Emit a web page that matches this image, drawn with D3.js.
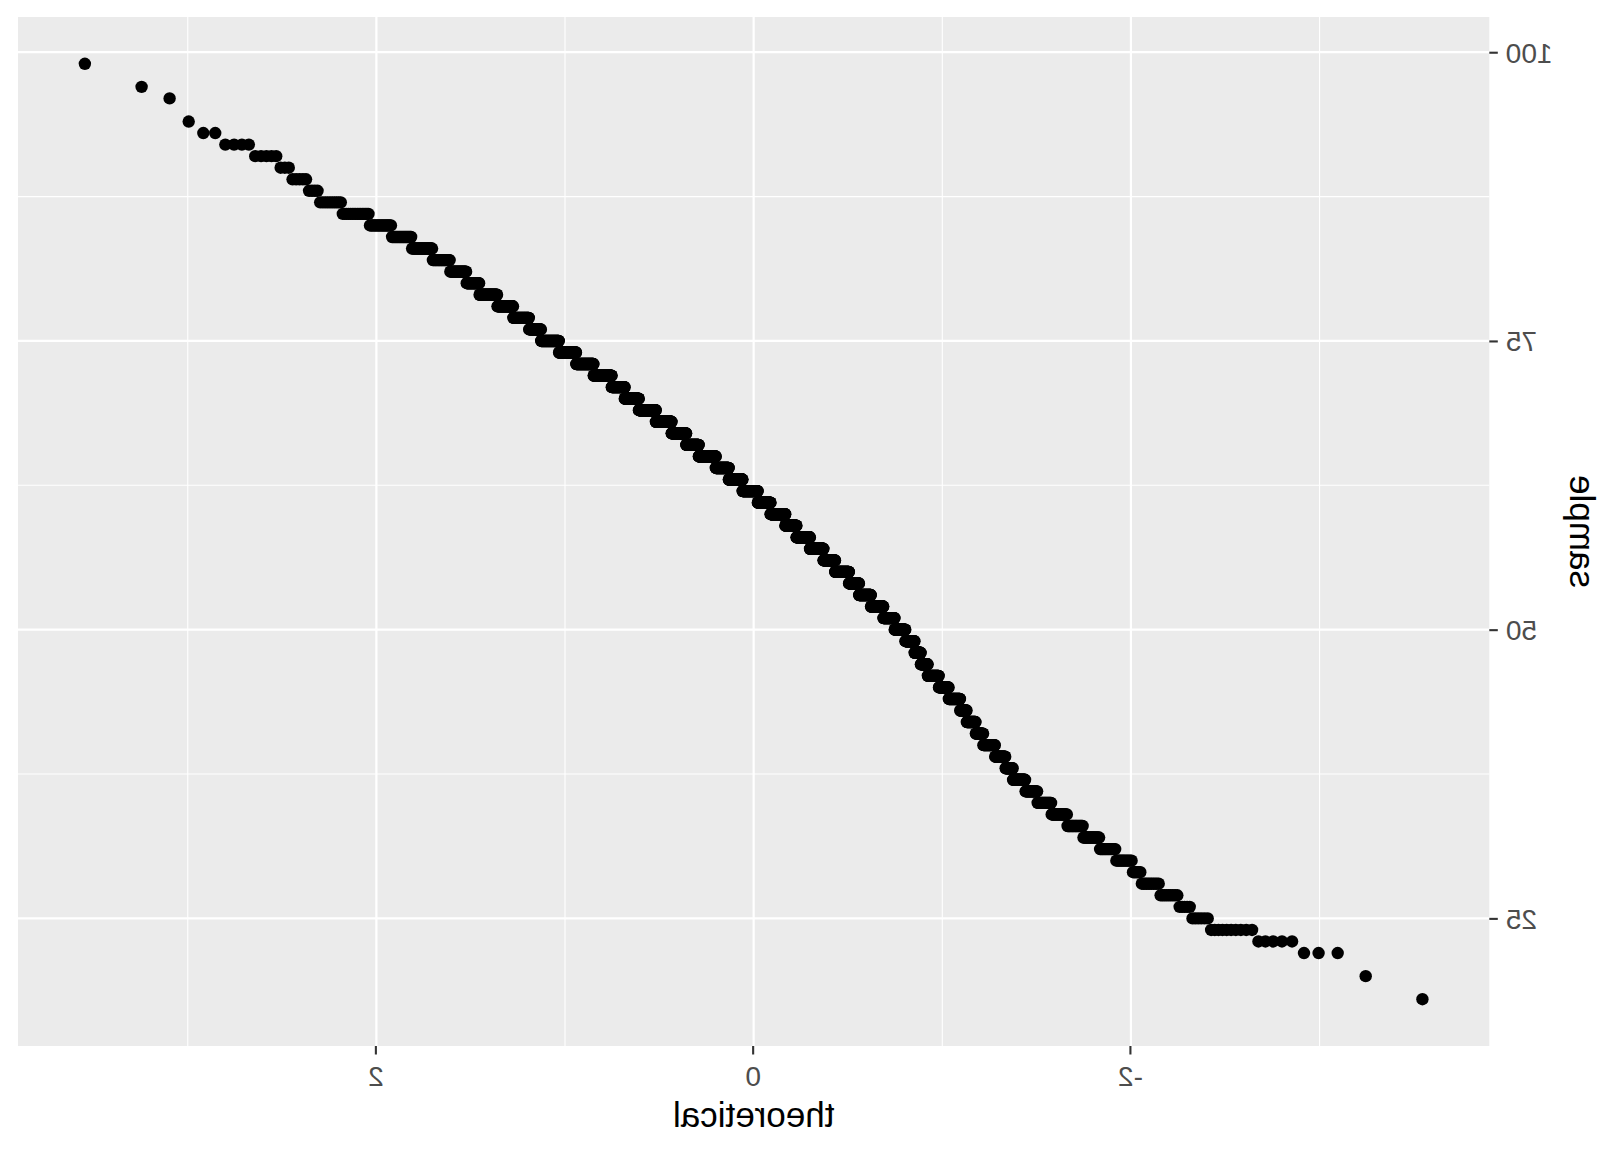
<!DOCTYPE html>
<html>
<head>
<meta charset="utf-8">
<script src="https://cdn.jsdelivr.net/npm/d3@7"></script>
<style>
  html, body { margin: 0; padding: 0; background: #ffffff; }
  svg { display: block; }
</style>
</head>
<body>
<div id="chart"></div>
<script>
const sampleValues = [18, 20, 22, 23, 24, 25, 26, 27, 28, 29, 30, 31, 32, 33, 34, 35, 36, 37, 38, 39,
  40, 41, 42, 43, 44, 45, 46, 47, 48, 49, 50, 51, 52, 53, 54, 55, 56, 57, 58, 59,
  60, 61, 62, 63, 64, 65, 66, 67, 68, 69, 70, 71, 72, 73, 74, 75, 76, 77, 78, 79,
  80, 81, 82, 83, 84, 85, 86, 87, 88, 89, 90, 91, 92, 93, 94, 96, 97, 99];
const sampleCounts = [1, 1, 3, 5, 10, 6, 5, 9, 11, 6, 13, 15, 18, 20, 23, 23, 22, 25, 16, 24,
  29, 20, 25, 19, 35, 32, 38, 25, 23, 35, 43, 47, 54, 54, 47, 67, 58, 69, 70, 59,
  79, 69, 82, 74, 69, 89, 64, 73, 76, 78, 62, 54, 71, 63, 57, 54, 33, 40, 36, 36,
  23, 26, 24, 24, 19, 17, 16, 10, 4, 5, 3, 5, 4, 2, 1, 1, 1, 1];

// axis ticks
const xTicks = [-2, 0, 2];
const xTickLabels = ["-2", "0", "2"];
const xMinor = [-3, -1, 1, 3];
const yTicks = [25, 50, 75, 100];
const yTickLabels = ["25", "50", "75", "100"];
const yMinor = [37.5, 62.5, 87.5];
const xTitle = "theoretical";
const yTitle = "sample";

// ---- stat_qq: sorted sample vs normal quantiles of ppoints(n) ----
function qnorm(p) {
  const a = [-3.969683028665376e+01, 2.209460984245205e+02, -2.759285104469687e+02, 1.383577518672690e+02, -3.066479806614716e+01, 2.506628277459239e+00];
  const b = [-5.447609879822406e+01, 1.615858368580409e+02, -1.556989798598866e+02, 6.680131188771972e+01, -1.328068155288572e+01];
  const c = [-7.784894002430293e-03, -3.223964580411365e-01, -2.400758277161838e+00, -2.549732539343734e+00, 4.374664141464968e+00, 2.938163982698783e+00];
  const d = [7.784695709041462e-03, 3.224671290700398e-01, 2.445134137142996e+00, 3.754408661907416e+00];
  const pl = 0.02425, ph = 1 - pl;
  if (p < pl) {
    const q = Math.sqrt(-2 * Math.log(p));
    return (((((c[0]*q+c[1])*q+c[2])*q+c[3])*q+c[4])*q+c[5]) / ((((d[0]*q+d[1])*q+d[2])*q+d[3])*q+1);
  }
  if (p <= ph) {
    const q = p - 0.5, r = q * q;
    return (((((a[0]*r+a[1])*r+a[2])*r+a[3])*r+a[4])*r+a[5])*q / (((((b[0]*r+b[1])*r+b[2])*r+b[3])*r+b[4])*r+1);
  }
  const q = Math.sqrt(-2 * Math.log(1 - p));
  return -(((((c[0]*q+c[1])*q+c[2])*q+c[3])*q+c[4])*q+c[5]) / ((((d[0]*q+d[1])*q+d[2])*q+d[3])*q+1);
}

const sample = [];
sampleValues.forEach((v, i) => { for (let k = 0; k < sampleCounts[i]; k++) sample.push(v); });
sample.sort((a, b) => a - b);
const n = sample.length;
const points = sample.map((v, i) => ({ theoretical: qnorm((i + 1 - 0.5) / n), sample: v }));

// ---- layout ----
const W = 1612, H = 1152;
const panel = { left: 122.7, right: 1594, top: 17, bottom: 1046 };

function expand(ext) { const r = ext[1] - ext[0]; return [ext[0] - 0.05 * r, ext[1] + 0.05 * r]; }
const x = d3.scaleLinear().domain(expand(d3.extent(points, d => d.theoretical))).range([panel.left, panel.right]);
const y = d3.scaleLinear().domain(expand(d3.extent(points, d => d.sample))).range([panel.bottom, panel.top]);

const svg = d3.select("#chart").append("svg").attr("width", W).attr("height", H);
svg.append("rect").attr("width", W).attr("height", H).attr("fill", "#ffffff");

// whole chart is mirrored horizontally, as in the reference
const g = svg.append("g").attr("transform", `translate(${W},0) scale(-1,1)`);

g.append("rect")
  .attr("x", panel.left).attr("y", panel.top)
  .attr("width", panel.right - panel.left).attr("height", panel.bottom - panel.top)
  .attr("fill", "#EBEBEB");

// minor grid
g.selectAll(".xminor").data(xMinor).enter().append("line")
  .attr("x1", d => x(d)).attr("x2", d => x(d)).attr("y1", panel.top).attr("y2", panel.bottom)
  .attr("stroke", "#ffffff").attr("stroke-width", 1.1);
g.selectAll(".yminor").data(yMinor).enter().append("line")
  .attr("x1", panel.left).attr("x2", panel.right).attr("y1", d => y(d)).attr("y2", d => y(d))
  .attr("stroke", "#ffffff").attr("stroke-width", 1.1);
// major grid
g.selectAll(".xmajor").data(xTicks).enter().append("line")
  .attr("x1", d => x(d)).attr("x2", d => x(d)).attr("y1", panel.top).attr("y2", panel.bottom)
  .attr("stroke", "#ffffff").attr("stroke-width", 2.2);
g.selectAll(".ymajor").data(yTicks).enter().append("line")
  .attr("x1", panel.left).attr("x2", panel.right).attr("y1", d => y(d)).attr("y2", d => y(d))
  .attr("stroke", "#ffffff").attr("stroke-width", 2.2);

// points
g.append("g").selectAll("circle").data(points).enter().append("circle")
  .attr("cx", d => x(d.theoretical)).attr("cy", d => y(d.sample))
  .attr("r", 6.2).attr("fill", "#000000");

// axes via d3 axis generators
const xAxis = d3.axisBottom(x).tickValues(xTicks).tickFormat((d, i) => xTickLabels[i]).tickSize(8.5).tickPadding(4);
const yAxis = d3.axisLeft(y).tickValues(yTicks).tickFormat((d, i) => yTickLabels[i]).tickSize(8.5).tickPadding(8);

const gx = g.append("g").attr("transform", `translate(0,${panel.bottom})`).call(xAxis);
const gy = g.append("g").attr("transform", `translate(${panel.left},0)`).call(yAxis);
[gx, gy].forEach(a => {
  a.select(".domain").remove();
  a.selectAll(".tick line").attr("stroke", "#333333").attr("stroke-width", 2.1);
  a.selectAll(".tick text").attr("fill", "#4D4D4D")
    .style("font-family", "'Liberation Sans', Arial, Helvetica, sans-serif").style("font-size", "28px");
});
gx.selectAll(".tick text").attr("dy", null).attr("y", 39.5);
gy.selectAll(".tick text").attr("dy", "0.358em");

// titles
g.append("text")
  .attr("x", (panel.left + panel.right) / 2).attr("y", 1127)
  .attr("text-anchor", "middle")
  .style("font-family", "'Liberation Sans', Arial, Helvetica, sans-serif").style("font-size", "35px")
  .attr("fill", "#000000").text(xTitle);
g.append("text")
  .attr("transform", `translate(42,${(panel.top + panel.bottom) / 2}) rotate(-90)`)
  .attr("text-anchor", "middle")
  .style("font-family", "'Liberation Sans', Arial, Helvetica, sans-serif").style("font-size", "35px")
  .attr("fill", "#000000").text(yTitle);
</script>
</body>
</html>
